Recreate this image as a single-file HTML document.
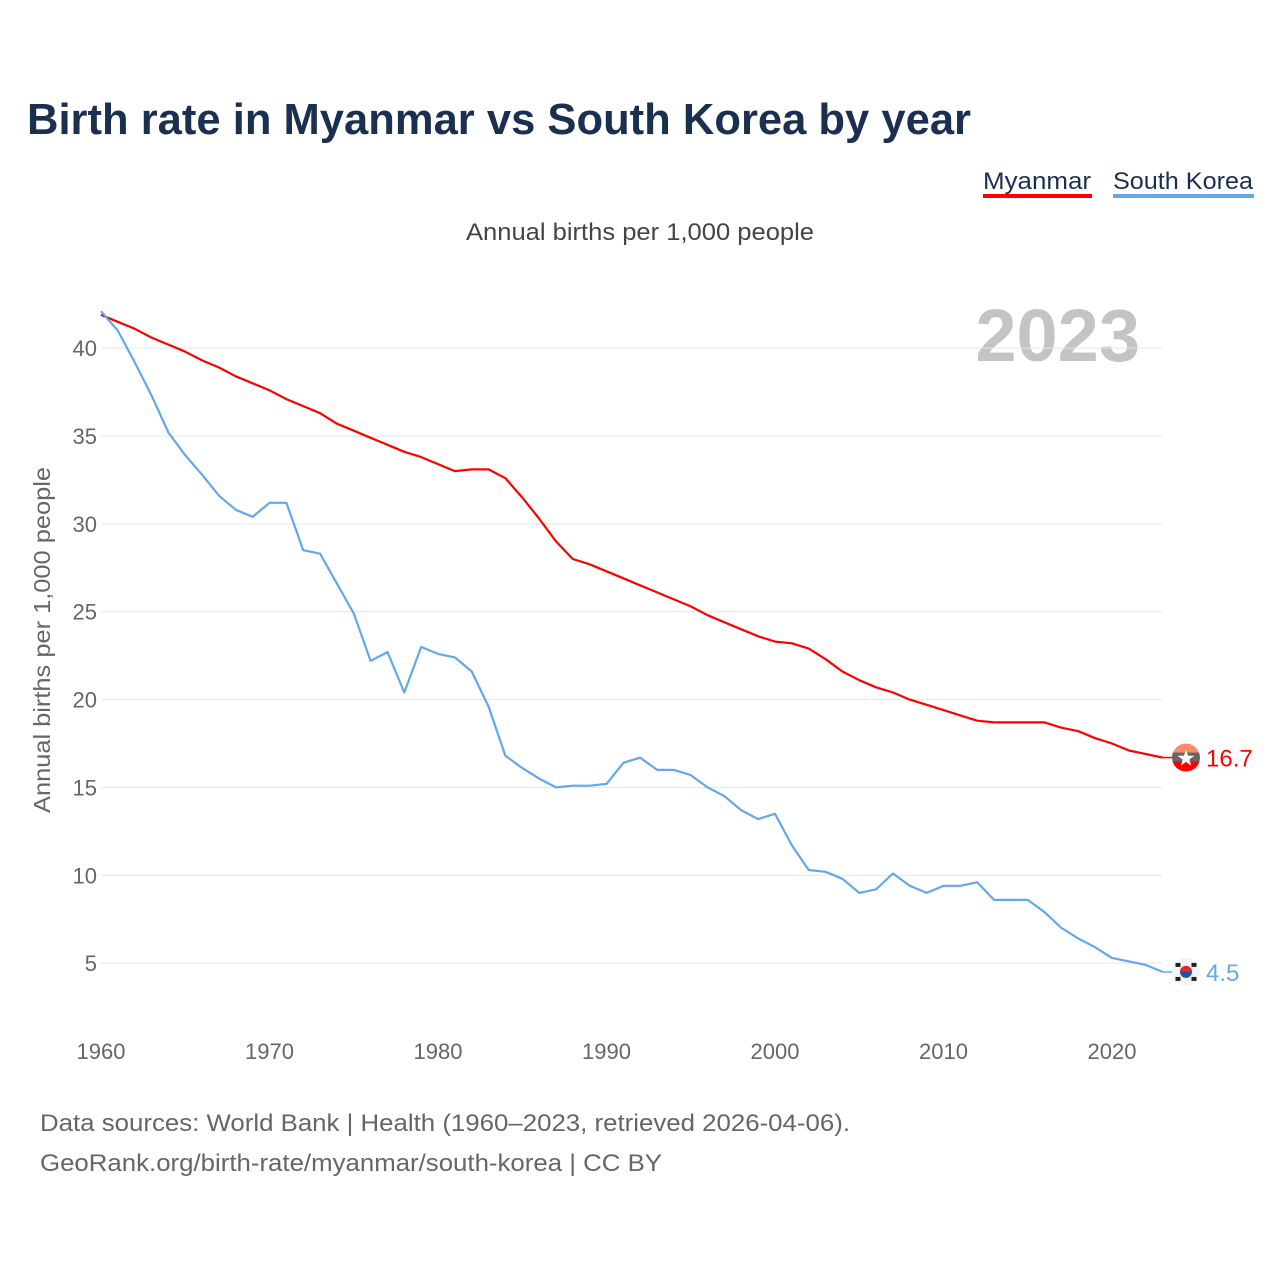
<!DOCTYPE html>
<html><head><meta charset="utf-8"><style>
html,body{margin:0;padding:0;background:#fff;}
body{width:1280px;height:1280px;overflow:hidden;font-family:"Liberation Sans",sans-serif;}
</style></head><body>
<svg id="chart" width="1280" height="1280" xmlns="http://www.w3.org/2000/svg" font-family="Liberation Sans, sans-serif">
<text x="27" y="134" font-size="44" font-weight="bold" fill="#1b3050" textLength="944" lengthAdjust="spacingAndGlyphs">Birth rate in Myanmar vs South Korea by year</text>
<g>
<text x="1037" y="189" text-anchor="middle" font-size="24" fill="#1b3050" textLength="108" lengthAdjust="spacingAndGlyphs">Myanmar</text>
<rect x="983" y="194" width="109" height="4" fill="#ff0000"/></g>
<g>
<text x="1183" y="189" text-anchor="middle" font-size="24" fill="#1b3050" textLength="140" lengthAdjust="spacingAndGlyphs">South Korea</text>
<rect x="1113" y="194" width="141" height="4" fill="#63a8ea"/></g>
<text x="640" y="240" text-anchor="middle" font-size="24" fill="#444" textLength="348" lengthAdjust="spacingAndGlyphs">Annual births per 1,000 people</text>
<text x="1140" y="361" text-anchor="end" font-size="74" font-weight="bold" fill="#c4c4c4">2023</text>
<text transform="translate(50,640) rotate(-90)" text-anchor="middle" font-size="23" fill="#666" textLength="346" lengthAdjust="spacingAndGlyphs">Annual births per 1,000 people</text>
<g id="grid"></g><g id="lines"></g>
<text x="40" y="1131" font-size="24" fill="#666" textLength="810" lengthAdjust="spacingAndGlyphs">Data sources: World Bank | Health (1960–2023, retrieved 2026-04-06).</text>
<text x="40" y="1171" font-size="24" fill="#666" textLength="622" lengthAdjust="spacingAndGlyphs">GeoRank.org/birth-rate/myanmar/south-korea | CC BY</text>
</svg>
<script>
const years = Array.from({length:64},(_,i)=>1960+i);
const myanmar = [41.9,41.5,41.1,40.6,40.2,39.8,39.3,38.9,38.4,38.0,37.6,37.1,36.7,36.3,35.7,35.3,34.9,34.5,34.1,33.8,33.4,33.0,33.1,33.1,32.6,31.5,30.3,29.0,28.0,27.7,27.3,26.9,26.5,26.1,25.7,25.3,24.8,24.4,24.0,23.6,23.3,23.2,22.9,22.3,21.6,21.1,20.7,20.4,20.0,19.7,19.4,19.1,18.8,18.7,18.7,18.7,18.7,18.4,18.2,17.8,17.5,17.1,16.9,16.7];
const southKorea = [42.1,41.0,39.2,37.3,35.2,33.9,32.8,31.6,30.8,30.4,31.2,31.2,28.5,28.3,26.6,24.9,22.2,22.7,20.4,23.0,22.6,22.4,21.6,19.6,16.8,16.1,15.5,15.0,15.1,15.1,15.2,16.4,16.7,16.0,16.0,15.7,15.0,14.5,13.7,13.2,13.5,11.7,10.3,10.2,9.8,9.0,9.2,10.1,9.4,9.0,9.4,9.4,9.6,8.6,8.6,8.6,7.9,7.0,6.4,5.9,5.3,5.1,4.9,4.5];
const yTicks = [5,10,15,20,25,30,35,40];
const xTicks = [1960,1970,1980,1990,2000,2010,2020];
const NS='http://www.w3.org/2000/svg';
const X = y => 101 + (y-1960)*(1011/60);
const Y = v => 1051 - v*(615/35);
function mk(tag, attrs, parent){const e=document.createElementNS(NS,tag);for(const k in attrs)e.setAttribute(k,attrs[k]);parent.appendChild(e);return e;}
const grid=document.getElementById('grid'), lines=document.getElementById('lines');
yTicks.forEach(t=>{
  const l=mk('line',{x1:101,x2:1162,y1:Y(t),y2:Y(t),stroke:'#e6e6e6','stroke-width':1},grid);
  
  
  const tx=mk('text',{x:97,y:Y(t)+8,'text-anchor':'end','font-size':22,fill:'#666'},grid);
  tx.textContent=t;
  
  
});
xTicks.forEach(t=>{
  const tx=mk('text',{x:X(t),y:1059,'text-anchor':'middle','font-size':22,fill:'#666'},grid);
  tx.textContent=t;
  
  
});
function series(vals,color,name){
  const d=vals.map((v,i)=>(i?'L':'M')+X(years[i]).toFixed(1)+' '+Y(v).toFixed(1)).join(' ');
  const p=mk('path',{d:d,fill:'none',stroke:color,'stroke-width':2.2,'stroke-linejoin':'round'},lines);
  
  
  const last=vals[vals.length-1], lx=X(years[years.length-1]);
  mk('line',{x1:lx,x2:lx+12,y1:Y(last),y2:Y(last),stroke:color,'stroke-width':1.5},lines);
  return {y:Y(last),v:last};
}
const m=series(myanmar,'#ff0000','myanmar');
const k=series(southKorea,'#63a8ea','south-korea');
const mg=mk('g',{},lines);


mk('clipPath',{id:'cm'},mg).appendChild(document.createElementNS(NS,'circle'));
const cmC=mg.querySelector('#cm circle');cmC.setAttribute('cx',1186);cmC.setAttribute('cy',m.y);cmC.setAttribute('r',14);
mk('rect',{x:1172,y:m.y-14,width:28,height:10,fill:'#fe8a6a','clip-path':'url(#cm)'},mg);
mk('rect',{x:1172,y:m.y-5,width:28,height:10,fill:'#666','clip-path':'url(#cm)'},mg);
mk('rect',{x:1172,y:m.y+4,width:28,height:10,fill:'#ff0000','clip-path':'url(#cm)'},mg);
mk('text',{x:1186,y:m.y+8,'text-anchor':'middle','font-size':22,fill:'#fff'},mg).textContent='★';
const mt=mk('text',{x:1206,y:m.y+9,'font-size':24,fill:'#ff0000'},lines);
mt.textContent=m.v.toFixed(1);


const kg=mk('g',{},lines);


mk('circle',{cx:1186,cy:k.y,r:14,fill:'#f4f4f4'},kg);
mk('circle',{cx:1186,cy:k.y,r:6,fill:'#1f4fa8'},kg);
mk('path',{d:`M1180 ${k.y} A6 6 0 0 1 1192 ${k.y} Z`,fill:'#e22'},kg);
[[-8,-7],[8,-7],[-8,7],[8,7]].forEach(([dx,dy])=>mk('rect',{x:1186+dx-2.5,y:k.y+dy-2,width:5,height:4,fill:'#222'},kg));
const kt=mk('text',{x:1206,y:k.y+9,'font-size':24,fill:'#63a8ea'},lines);
kt.textContent=k.v.toFixed(1);


</script>
</body></html>
